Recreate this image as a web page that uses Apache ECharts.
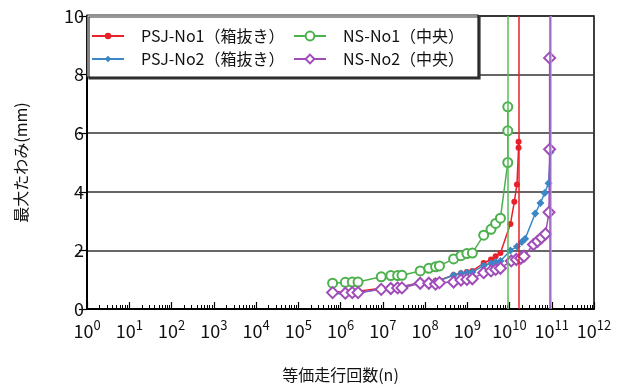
<!DOCTYPE html>
<html>
<head>
<meta charset="utf-8">
<script src="https://cdn.jsdelivr.net/npm/echarts@6/dist/echarts.min.js"></script>
<style>
  html, body { margin: 0; padding: 0; background: #fff; }
  #chartbox { width: 622px; height: 388px; }
</style>
</head>
<body>
<div id="chartbox"></div>
<script>
// 等価走行回数(n), 最大たわみ(mm)
var psj1Data = [
  [6.5e5, 0.60], [1.3e6, 0.57], [1.9e6, 0.59], [2.6e6, 0.61], [9.2e6, 0.71], [1.55e7, 0.74],
  [2.25e7, 0.76], [2.85e7, 0.77], [7.7e7, 0.90], [1.23e8, 0.93], [1.78e8, 0.96], [2.2e8, 0.98],
  [4.75e8, 1.16], [7.1e8, 1.22], [9.8e8, 1.26], [1.32e9, 1.30], [2.45e9, 1.57], [3.65e9, 1.69],
  [4.7e9, 1.80], [6.1e9, 1.91], [1.05e10, 2.90], [1.3e10, 3.66], [1.5e10, 4.25], [1.64e10, 5.50],
  [1.64e10, 5.71]
];
var psj2Data = [
  [6.5e5, 0.52], [1.3e6, 0.52], [1.9e6, 0.52], [2.6e6, 0.54], [9.2e6, 0.69], [1.55e7, 0.72],
  [2.25e7, 0.74], [2.85e7, 0.74], [7.7e7, 0.90], [1.23e8, 0.92], [1.78e8, 0.94], [2.2e8, 0.97],
  [4.75e8, 1.15], [7.1e8, 1.21], [9.8e8, 1.24], [1.32e9, 1.26], [2.45e9, 1.48], [3.65e9, 1.55],
  [4.7e9, 1.60], [6.1e9, 1.64], [1.05e10, 2.00], [1.5e10, 2.13], [1.95e10, 2.29], [2.35e10, 2.40],
  [4.06e10, 3.26], [5.4e10, 3.62], [6.8e10, 3.96], [8.4e10, 4.29], [9.3e10, 5.35]
];
var ns1Data = [
  [6.5e5, 0.88], [1.3e6, 0.91], [1.9e6, 0.92], [2.6e6, 0.92], [9.2e6, 1.10], [1.55e7, 1.14],
  [2.25e7, 1.14], [2.85e7, 1.15], [7.7e7, 1.30], [1.23e8, 1.39], [1.78e8, 1.44], [2.2e8, 1.47],
  [4.75e8, 1.71], [7.1e8, 1.82], [9.8e8, 1.89], [1.32e9, 1.91], [2.45e9, 2.52], [3.65e9, 2.72],
  [4.7e9, 2.92], [6.1e9, 3.10], [9.1e9, 5.00], [9.1e9, 6.08], [9.1e9, 6.90]
];
var ns2Data = [
  [6.5e5, 0.56], [1.3e6, 0.54], [1.9e6, 0.56], [2.6e6, 0.56], [9.2e6, 0.67], [1.55e7, 0.70],
  [2.25e7, 0.72], [2.85e7, 0.72], [7.7e7, 0.88], [1.23e8, 0.88], [1.78e8, 0.85], [2.2e8, 0.90],
  [4.75e8, 0.92], [7.1e8, 0.99], [9.8e8, 1.01], [1.32e9, 1.03], [2.45e9, 1.24], [3.65e9, 1.30],
  [4.7e9, 1.35], [6.1e9, 1.39], [1.1e10, 1.64], [1.45e10, 1.69], [1.85e10, 1.73], [2.2e10, 1.80],
  [3.7e10, 2.20], [4.6e10, 2.31], [5.7e10, 2.43], [7.1e10, 2.56], [8.6e10, 3.30], [8.9e10, 5.45],
  [8.9e10, 8.57]
];
// 破壊回数（縦線）
var psj1Limit = 1.66e10;
var psj2Limit = 9.5e10;
var ns1Limit = 9.2e9;
var ns2Limit = 9.0e10;

var seriesNames = ["PSJ-No1（箱抜き）", "PSJ-No2（箱抜き）", "NS-No1（中央）", "NS-No2（中央）"];
var yTicks = [0, 2, 4, 6, 8, 10];
var xDecades = 12;

var fontJp = '"Noto Sans CJK JP", "Noto Sans", sans-serif';

var chartDom = document.getElementById("chartbox");
var myChart = echarts.init(chartDom);

const limitLine = (x, color) => {
    return {
        silent: true,
        symbol: "none",
        label: { show: false },
        lineStyle: { color: color, width: 1.5, type: "solid" },
        data: [{ xAxis: x }],
    };
};

var option = {
    animation: false,
    textStyle: { fontFamily: fontJp },
    grid: {
        left: 87,
        right: 28,
        top: 16,
        bottom: 76,
        show: true,
        borderColor: "#000",
        borderWidth: 1.5,
    },
    graphic: [
        {
            type: "rect",
            z: 3,
            shape: { x: 87, y: 15, width: 391, height: 62 },
            style: {
                fill: "#fff",
                stroke: "#222",
                lineWidth: 1.2,
                shadowColor: "#333",
                shadowOffsetX: 2,
                shadowOffsetY: 2,
                shadowBlur: 0,
            },
        },
    ],
    legend: [
        {
            z: 5,
            data: [seriesNames[0], seriesNames[1]],
            orient: "vertical",
            left: 91,
            top: 28,
            padding: 0,
            itemWidth: 32,
            itemHeight: 8,
            itemGap: 7,
            textStyle: { fontSize: 16, color: "#111", fontFamily: fontJp, padding: [0, 0, 0, 12] },
        },
        {
            z: 5,
            data: [seriesNames[2], seriesNames[3]],
            orient: "vertical",
            left: 293,
            top: 28,
            padding: 0,
            itemWidth: 32,
            itemHeight: 11,
            itemGap: 7,
            textStyle: { fontSize: 16, color: "#111", fontFamily: fontJp, padding: [0, 0, 0, 12] },
        },
    ],
    xAxis: {
        type: "log",
        logBase: 10,
        min: 1,
        max: Math.pow(10, xDecades),
        interval: 1,
        splitNumber: xDecades,
        name: "等価走行回数(n)",
        nameLocation: "middle",
        nameGap: 58,
        nameTextStyle: { fontSize: 16, color: "#111", fontFamily: fontJp },
        axisLine: { lineStyle: { color: "#000", width: 2 } },
        axisTick: { inside: true, length: 7, interval: 0, lineStyle: { color: "#000", width: 1.2 } },
        minorTick: { show: true, splitNumber: 9, length: 4, lineStyle: { color: "#000", width: 1 } },
        splitLine: { show: false },
        axisLabel: {
            margin: 10,
            interval: 0,
            color: "#111",
            formatter: function (v) {
                return "{b|10}{s|" + Math.round(Math.log10(v)) + "}";
            },
            rich: {
                b: { fontSize: 18, fontFamily: fontJp, color: "#111" },
                s: { fontSize: 13, fontFamily: fontJp, color: "#111", padding: [0, 0, 11, 0] },
            },
        },
    },
    yAxis: {
        type: "value",
        min: yTicks[0],
        max: yTicks[yTicks.length - 1],
        interval: 2,
        name: "最大たわみ(mm)",
        nameLocation: "middle",
        nameRotate: 90,
        nameGap: 58,
        nameTextStyle: { fontSize: 16, color: "#111", fontFamily: fontJp },
        axisLine: { show: true, lineStyle: { color: "#000", width: 2 } },
        axisTick: { show: true, inside: false, length: 8, lineStyle: { color: "#000", width: 1.2 } },
        axisLabel: { fontSize: 18, color: "#111", margin: 3, fontFamily: fontJp },
        splitLine: { show: true, lineStyle: { color: "#333", width: 1.5 } },
    },
    series: [
        {
            name: seriesNames[0],
            type: "line",
            data: psj1Data,
            symbol: "circle",
            symbolSize: 6,
            itemStyle: { color: "#e8202a" },
            lineStyle: { color: "#e8202a", width: 1.5 },
            markLine: limitLine(psj1Limit, "#e8202a"),
        },
        {
            name: seriesNames[1],
            type: "line",
            data: psj2Data,
            symbol: "diamond",
            symbolSize: 8,
            itemStyle: { color: "#3a86c6" },
            lineStyle: { color: "#3a86c6", width: 1.5 },
            markLine: limitLine(psj2Limit, "#8cb7e2"),
        },
        {
            name: seriesNames[2],
            type: "line",
            data: ns1Data,
            symbol: "emptyCircle",
            symbolSize: 9,
            itemStyle: { color: "#4cb04c", borderWidth: 1.3 },
            lineStyle: { color: "#4cb04c", width: 1.5 },
            markLine: limitLine(ns1Limit, "#5cbb5a"),
        },
        {
            name: seriesNames[3],
            type: "line",
            data: ns2Data,
            symbol: "emptyDiamond",
            symbolSize: 11,
            itemStyle: { color: "#a04dba", borderWidth: 1.3 },
            lineStyle: { color: "#a04dba", width: 1.5 },
            markLine: limitLine(ns2Limit, "#9b55b8"),
        },
    ],
};
option && myChart.setOption(option);
</script>
</body>
</html>
